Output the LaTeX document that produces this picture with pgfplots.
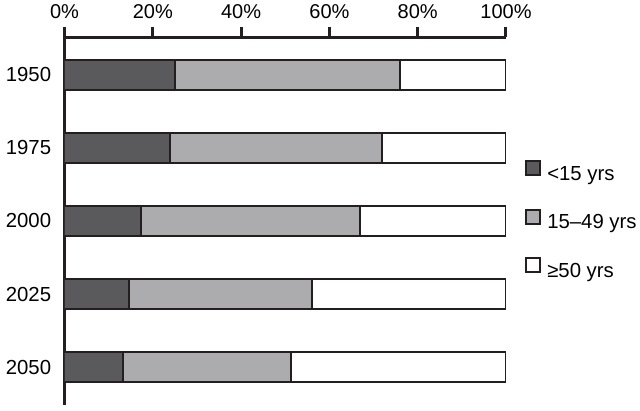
\documentclass[border=0pt]{standalone}
\usepackage{fontspec}
\setmainfont{Liberation Sans}
\usepackage{pgfplots}
\usepackage{pgfplotstable}
\pgfplotsset{compat=1.18}
\definecolor{darkseg}{RGB}{90,90,92}
\definecolor{lightseg}{RGB}{172,172,174}
\definecolor{outl}{RGB}{35,31,32}
\pgfplotstableread{
pos young mid old
4 25.0 51.0 24.0
3 24.0 48.0 28.0
2 17.3 49.7 33.0
1 14.5 41.6 43.9
0 13.2 38.2 48.6
}\datatable
\begin{document}
\begin{tikzpicture}
\path[use as bounding box] (-38.7pt,-3.6pt) rectangle (345.3pt,243pt);
\begin{axis}[
  scale only axis, width=264.9pt, height=220.5pt,
  at={(0pt,0pt)}, anchor=south west,
  xbar stacked, bar width=17.6pt,
  xmin=0, xmax=100, ymin=-0.52, ymax=4.513,
  axis x line*=top, axis y line*=left,
  axis line style={line width=1.8pt, color=outl, -},
  xtick={0,20,...,100},
  xticklabel={\pgfmathprintnumber{\tick}\%},
  xtick style={line width=1.8pt, color=outl},
  xtick align=outside, major tick length=6pt,
  ytick={0,1,2,3,4},
  yticklabels={2050,2025,2000,1975,1950},
  ytick style={draw=none},
  xticklabel style={font=\fontsize{12}{14}\selectfont, yshift=1.8pt},
  yticklabel style={font=\fontsize{12.2}{14}\selectfont, xshift=-4.5pt},
  /pgf/number format/assume math mode=true,
  legend cell align=left,
  legend image code/.code={\draw[#1, line width=1.2pt] (0pt,-0.2pt) rectangle (8.2pt,8.2pt);},
  legend style={at={(1.043,0.501)}, anchor=west, draw=none, fill=none,
    inner sep=0pt, row sep=14.8pt, column sep=3.8pt,
    nodes={inner sep=0pt, text height=8.5pt, text depth=2.5pt, font=\fontsize{12.2}{14}\selectfont}},
  every axis plot/.append style={draw=outl, line width=1.2pt},
]
\addplot[fill=darkseg, draw=outl] table[x=young, y=pos] {\datatable};
\addplot[fill=lightseg, draw=outl] table[x=mid, y=pos] {\datatable};
\addplot[fill=white, draw=outl] table[x=old, y=pos] {\datatable};
\legend{<15 yrs, 15–49 yrs, ≥50 yrs}
\end{axis}
\end{tikzpicture}
\end{document}
